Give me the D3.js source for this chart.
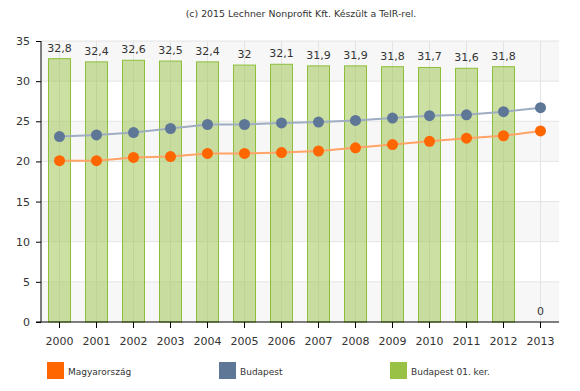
<!DOCTYPE html>
<html>
<head>
<meta charset="utf-8">
<script src="https://cdn.jsdelivr.net/npm/d3@7"></script>
<style>
  body { margin: 0; background: #fff; }
  svg { display: block; font-family: 'DejaVu Sans', Verdana, sans-serif; }
</style>
</head>
<body>
<div id="screen"></div>
<script>
const years = [2000, 2001, 2002, 2003, 2004, 2005, 2006, 2007, 2008, 2009, 2010, 2011, 2012, 2013]
const kerulet = [32.8, 32.4, 32.6, 32.5, 32.4, 32, 32.1, 31.9, 31.9, 31.8, 31.7, 31.6, 31.8, 0]
const magyarorszag = [20.1, 20.1, 20.5, 20.6, 21.0, 21.0, 21.1, 21.3, 21.7, 22.1, 22.5, 22.9, 23.2, 23.8]
const budapest = [23.1, 23.3, 23.6, 24.1, 24.6, 24.6, 24.8, 24.9, 25.1, 25.4, 25.7, 25.8, 26.2, 26.7]
const yTicks = [0, 5, 10, 15, 20, 25, 30, 35]
const legendItems = [
  { name: 'Magyarország', color: '#ff6600' },
  { name: 'Budapest', color: '#5f7797' },
  { name: 'Budapest 01. ker.', color: '#98c146' }
]

const width = 580
const height = 391
const margin = { top: 41, right: 21, bottom: 69, left: 41 }

const svg = d3.select('#screen').append('svg')
  .attr('width', width)
  .attr('height', height)

const x = d3.scaleBand()
  .domain(years)
  .range([margin.left, width - margin.right])

const y = d3.scaleLinear()
  .domain([0, 35])
  .range([height - margin.bottom, margin.top])

const cx = d => x(d) + x.bandwidth() / 2

// bandes alternées
for (let i = 0; i < yTicks.length - 1; i += 2) {
  svg.append('rect')
    .attr('x', margin.left)
    .attr('y', y(yTicks[i + 1]))
    .attr('width', width - margin.right - margin.left)
    .attr('height', y(yTicks[i]) - y(yTicks[i + 1]))
    .attr('fill', '#f7f7f7')
}

// grille
svg.append('g')
  .selectAll('line')
  .data(yTicks.slice(1))
  .join('line')
  .attr('x1', margin.left).attr('x2', width - margin.right)
  .attr('y1', d => y(d)).attr('y2', d => y(d))
  .attr('stroke', '#e4e4e4')

svg.append('g')
  .selectAll('line')
  .data(years)
  .join('line')
  .attr('x1', d => cx(d)).attr('x2', d => cx(d))
  .attr('y1', y(35)).attr('y2', y(0))
  .attr('stroke', '#e4e4e4')

// barres
const barW = 23
svg.append('g')
  .selectAll('rect')
  .data(years.map((d, i) => ({ year: d, v: kerulet[i] })).filter(d => d.v > 0))
  .join('rect')
  .attr('x', d => cx(d.year) - barW / 2 + 0.5)
  .attr('y', d => y(d.v))
  .attr('width', barW - 1)
  .attr('height', d => y(0) - y(d.v))
  .attr('fill', 'rgba(152,193,70,0.5)')
  .attr('stroke', '#8dbf3a')
  .attr('stroke-width', 1)

svg.append('g')
  .selectAll('text')
  .data(years.map((d, i) => ({ year: d, v: kerulet[i] })))
  .join('text')
  .attr('x', d => cx(d.year))
  .attr('y', d => y(d.v) - 7)
  .attr('text-anchor', 'middle')
  .attr('font-size', '11px')
  .attr('fill', '#333')
  .text(d => String(d.v).replace('.', ','))

// lignes
function drawSeries (values, lineColor, dotColor) {
  const line = d3.line()
    .x((d, i) => cx(years[i]))
    .y(d => y(d))
  svg.append('path')
    .datum(values)
    .attr('d', line)
    .attr('fill', 'none')
    .attr('stroke', lineColor)
    .attr('stroke-width', 2)
  svg.append('g')
    .selectAll('circle')
    .data(values)
    .join('circle')
    .attr('cx', (d, i) => cx(years[i]))
    .attr('cy', d => y(d))
    .attr('r', 5.5)
    .attr('fill', dotColor)
}
drawSeries(budapest, '#9eadc1', '#5f7797')
drawSeries(magyarorszag, '#ffa366', '#ff6600')

// axes
const yAxis = svg.append('g')
  .attr('transform', `translate(${margin.left},0)`)
  .call(d3.axisLeft(y).tickValues(yTicks).tickSize(5).tickPadding(6))
yAxis.select('.domain').attr('stroke', '#000').attr('d', `M0,${y(0)}V${y(35)}`)
yAxis.selectAll('text').attr('font-size', '11px').attr('fill', '#333')
  .attr('font-family', "'DejaVu Sans', sans-serif")

const xAxis = svg.append('g')
  .attr('transform', `translate(0,${y(0)})`)
  .call(d3.axisBottom(x).tickSize(6).tickPadding(9))
xAxis.select('.domain').attr('stroke', '#000')
  .attr('d', `M${margin.left - 5},0H${width - margin.right}`)
xAxis.selectAll('text').attr('font-size', '11px').attr('fill', '#333')
  .attr('font-family', "'DejaVu Sans', sans-serif")

// titre
svg.append('text')
  .attr('x', 301)
  .attr('y', 17)
  .attr('text-anchor', 'middle')
  .attr('font-size', '9.4px')
  .attr('fill', '#333')
  .text('(c) 2015 Lechner Nonprofit Kft. Készült a TeIR-rel.')

// légende
const legendX = [47, 219, 390]
const legend = svg.append('g')
  .selectAll('g')
  .data(legendItems)
  .join('g')
  .attr('transform', (d, i) => `translate(${legendX[i]},362)`)
legend.append('rect')
  .attr('width', 17).attr('height', 17)
  .attr('fill', d => d.color)
legend.append('text')
  .attr('x', 21).attr('y', 12.5)
  .attr('font-size', '9px')
  .attr('fill', '#333')
  .text(d => d.name)
</script>
</body>
</html>
